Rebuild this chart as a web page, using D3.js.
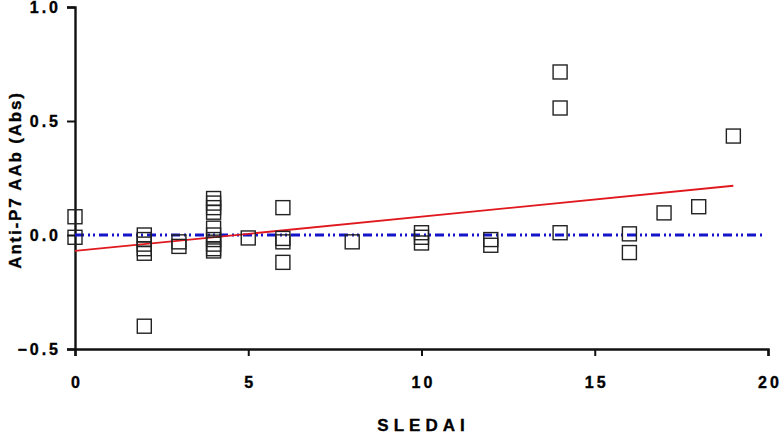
<!DOCTYPE html>
<html lang="en">
<head>
<meta charset="UTF-8">
<title>Anti-P7 AAb vs SLEDAI</title>
<style>
    body { margin: 0; background: #fff; }
    svg { display: block; }
    text { font-family: "Liberation Sans", Arial, sans-serif; font-weight: bold; fill: #000; stroke: #000; stroke-width: 0.35px; }
</style>
</head>
<body>
<div id="chart"></div>
<script src="https://d3js.org/d3.v7.min.js"></script>
<script>
    // Data: SLEDAI score and Anti-P7 AAb absorbance
    const sledai = [0, 0, 2, 2, 2, 2, 2, 2, 3, 3, 4, 4, 4, 4, 4, 4, 4, 4, 4, 4,
                    5, 6, 6, 6, 6, 8, 10, 10, 10, 12, 12, 14, 14, 14, 16, 16, 17, 18, 19];
    const absValue = [0.08, -0.01, 0.0, -0.02, -0.04, -0.06, -0.08, -0.40, -0.03, -0.05,
                      0.16, 0.14, 0.12, 0.10, 0.03, 0.0, -0.02, -0.04, -0.06, -0.07,
                      -0.013, 0.12, -0.015, -0.03, -0.12, -0.03, 0.01, -0.01, -0.035,
                      -0.02, -0.045, 0.715, 0.557, 0.01, 0.005, -0.077, 0.097, 0.124, 0.434];

    // regression line and zero reference line
    const fitX = [0, 19];
    const fitY = [-0.07, 0.216];
    const zeroX = [0, 19.85];
    const zeroY = [0, 0];

    const xTicks = [0, 5, 10, 15, 20];
    const yTicks = [-0.5, 0.0, 0.5, 1.0];

    const width = 779, height = 434;
    const margin = { left: 75, right: 11, top: 7, bottom: 85 };

    const svg = d3.select("#chart").append("svg")
        .attr("width", width)
        .attr("height", height);

    const x = d3.scaleLinear().domain([0, 20]).range([margin.left, width - margin.right]);
    const y = d3.scaleLinear().domain([-0.5, 1.0]).range([height - margin.bottom, margin.top]);

    // x axis
    const xAxis = svg.append("g")
        .attr("transform", `translate(0,${y(-0.5)})`)
        .call(d3.axisBottom(x).tickValues(xTicks).tickFormat(d3.format("d")).tickSize(7).tickPadding(21));
    xAxis.select(".domain").attr("stroke", "#111").attr("stroke-width", 2.4);
    xAxis.selectAll(".tick line").attr("stroke", "#111").attr("stroke-width", 2);
    xAxis.selectAll(".tick text")
        .style("font-size", "16px")
        .style("letter-spacing", "3px")
        .attr("dx", "1.5px");

    // y axis
    const yAxis = svg.append("g")
        .attr("transform", `translate(${x(0)},0)`)
        .call(d3.axisLeft(y).tickValues(yTicks).tickFormat(d3.format(".1f")).tickSize(8).tickPadding(6));
    yAxis.select(".domain").attr("stroke", "#111").attr("stroke-width", 2.4);
    yAxis.selectAll(".tick line").attr("stroke", "#111").attr("stroke-width", 2);
    yAxis.selectAll(".tick text")
        .style("font-size", "16px")
        .style("letter-spacing", "3px");

    // axis titles
    svg.append("text")
        .attr("x", x(10) + 2)
        .attr("y", 431)
        .attr("text-anchor", "middle")
        .style("font-size", "17px")
        .style("letter-spacing", "5px")
        .text("SLEDAI");

    svg.append("text")
        .attr("transform", `translate(21,${y(0.25) + 2}) rotate(-90)`)
        .attr("text-anchor", "middle")
        .style("font-size", "17px")
        .style("letter-spacing", "1.8px")
        .text("Anti-P7 AAb (Abs)");

    const line = d3.line().x(d => x(d[0])).y(d => y(d[1]));

    // zero reference line (blue dash-dot)
    svg.append("path")
        .datum(d3.zip(zeroX, zeroY))
        .attr("d", line)
        .attr("fill", "none")
        .attr("stroke", "#1414c8")
        .attr("stroke-width", 3)
        .attr("stroke-dasharray", "9,4,2,3,2,4");

    // fitted regression line
    svg.append("path")
        .datum(d3.zip(fitX, fitY))
        .attr("d", line)
        .attr("fill", "none")
        .attr("stroke", "#e0191e")
        .attr("stroke-width", 1.8);

    // points as open squares
    const s = 14;
    svg.append("g")
        .selectAll("rect")
        .data(d3.zip(sledai, absValue))
        .enter().append("rect")
        .attr("x", d => x(d[0]) - s / 2)
        .attr("y", d => y(d[1]) - s / 2)
        .attr("width", s)
        .attr("height", s)
        .attr("fill", "none")
        .attr("stroke", "#222")
        .attr("stroke-width", 1.4);
</script>
</body>
</html>
